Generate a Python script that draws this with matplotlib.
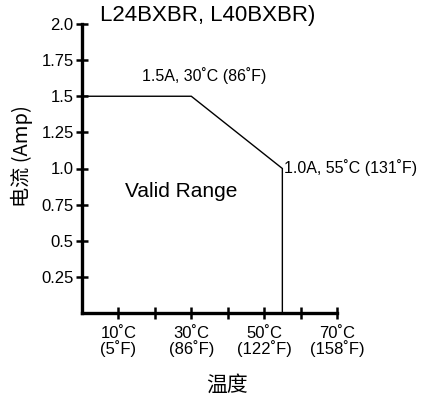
import matplotlib
matplotlib.use('Agg')
import matplotlib.pyplot as plt

# derating curve (temperature in C, current in A)
temp_c = [0, 30, 55, 55]
current = [1.5, 1.5, 1.0, 0.0]

yticks = [0.25, 0.5, 0.75, 1.0, 1.25, 1.5, 1.75, 2.0]
ytick_labels = ['0.25', '0.5', '0.75', '1.0', '1.25', '1.5', '1.75', '2.0']
xticks = [10, 20, 30, 40, 50, 60, 70]
xtick_labels = ['10˚C\n(5˚F)', '', '30˚C\n(86˚F)', '', '50˚C\n(122˚F)', '', '70˚C\n(158˚F)']

plt.rcParams['font.family'] = ['Liberation Sans', 'DejaVu Sans']
cjk = ['Noto Sans CJK SC', 'DejaVu Sans']

fig = plt.figure(figsize=(4.22, 3.96), dpi=100)
ax = fig.add_axes([82/422, 83/396, 255/422, 289/396])

ax.plot(temp_c, current, color='black', lw=1.0, solid_joinstyle='miter')

ax.set_xlim(0, 70)
ax.set_ylim(0, 2.0)
for s in ['top', 'right']:
    ax.spines[s].set_visible(False)
for s in ['left', 'bottom']:
    ax.spines[s].set_linewidth(2.4)

ax.set_yticks(yticks)
ax.set_yticklabels(ytick_labels)
ax.set_xticks(xticks)
ax.set_xticklabels(xtick_labels, linespacing=0.95)
ax.tick_params(axis='both', direction='inout', length=9, width=1.8, labelsize=12)
ax.tick_params(axis='y', pad=1.5)
ax.tick_params(axis='x', pad=4.5)

ax.text(33.6, 1.585, '1.5A, 30˚C (86˚F)', ha='center', va='bottom', fontsize=11.5)
ax.text(55.4, 1.01, '1.0A, 55˚C (131˚F)', ha='left', va='center', fontsize=11.5)
ax.text(11.8, 0.84, 'Valid Range', ha='left', va='center', fontsize=15)

fig.text(100/422, 1 - 16/396, 'L24BXBR, L40BXBR)', ha='left', va='center', fontsize=16)
fig.text(22/422, 1 - 156/396, '电流 (Amp)', rotation=90, ha='center', va='center',
         fontsize=14.5, family=cjk)
fig.text(227/422, 1 - 385/396, '温度', ha='center', va='center', fontsize=15, family=cjk)

fig.savefig('out.png', dpi=100)
